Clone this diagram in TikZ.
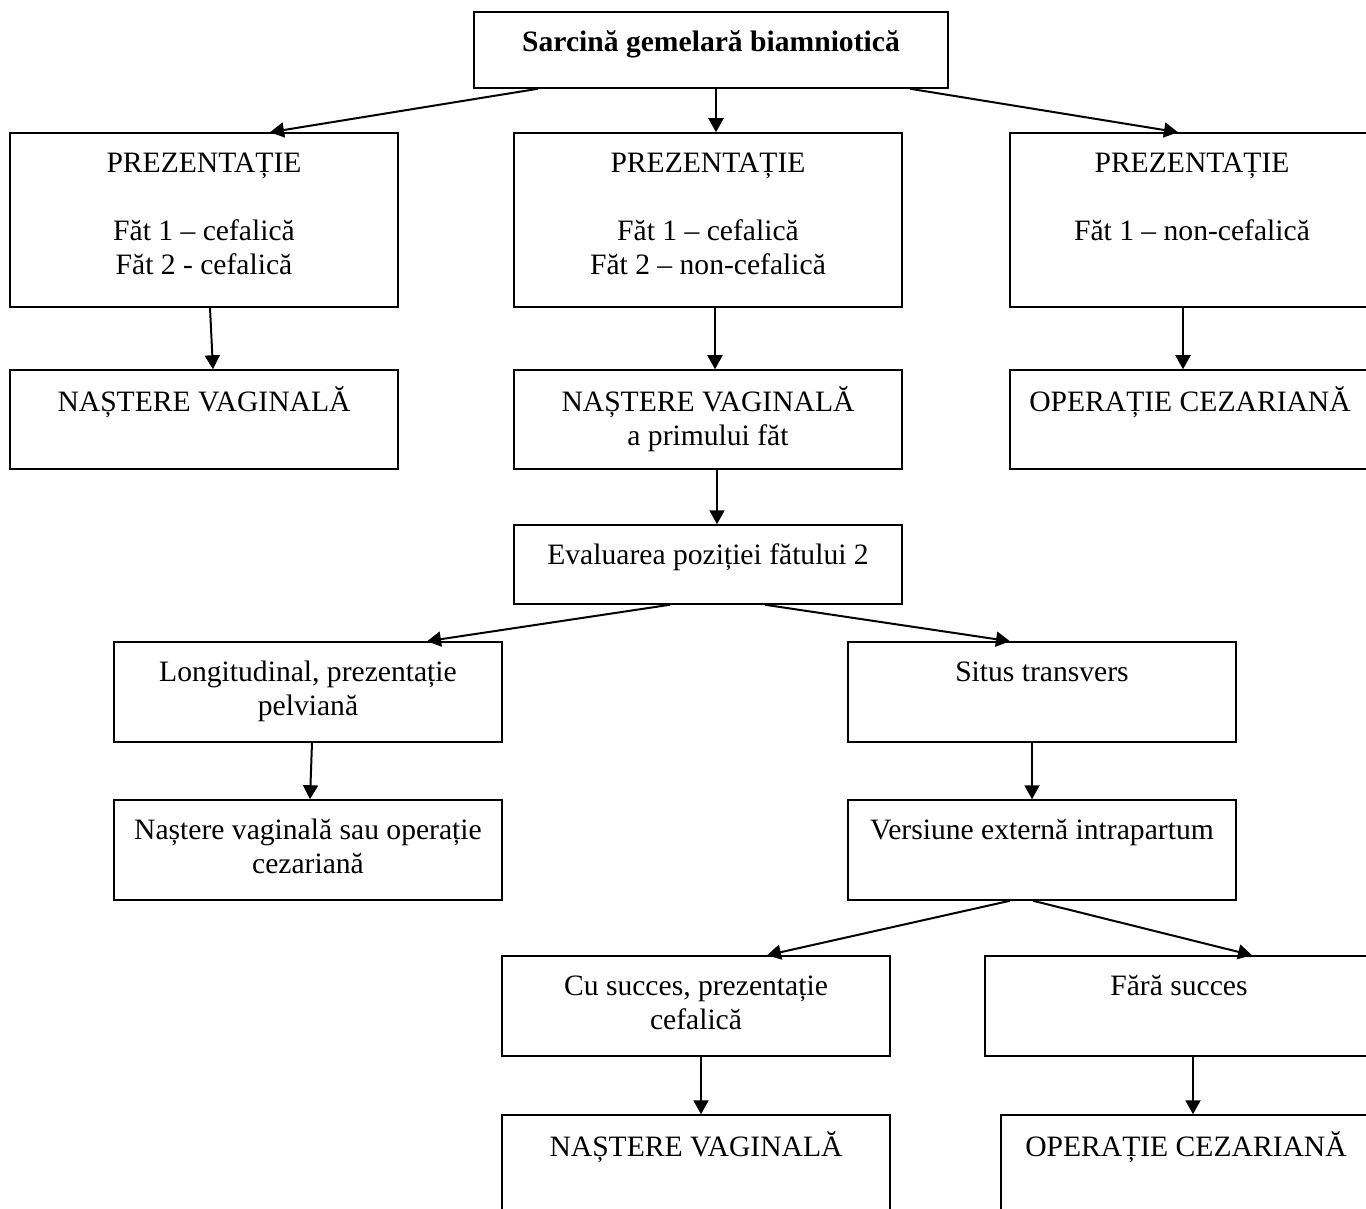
\documentclass[tikz,border=0pt]{standalone}
\usepackage{fontspec}
\setmainfont{Liberation Serif}
\usetikzlibrary{arrows.meta}
\newcommand{\boxtxt}[3]{\parbox[c][#2][t]{#1}{\centering\vspace*{8pt}\strut #3}}

\begin{document}
\begin{tikzpicture}[x=0.5pt,y=-0.5pt]
    \tikzstyle{blk}=[draw=black,line width=0.75pt,inner sep=0pt,font=\fontsize{14.8}{17}\selectfont]
    \tikzstyle{fwd}=[draw=black,line width=1pt]
    \pgfsetarrowsend{Triangle[length=7pt,width=7.5pt]}

    \def\bw{194pt}
    \def\rh{50pt}

    \clip (0,0) rectangle (1366,1209);

    % top
    \node[blk] (top) at (711,50) {\boxtxt{237pt}{38pt}{\textbf{Sarcină gemelară biamniotică}}};

    % prezentatie
    \node[blk] (p1) at (204,220) {\boxtxt{\bw}{87pt}{PREZENTAȚIE\\[17pt] Făt 1 – cefalică\\ Făt 2 - cefalică}};
    \node[blk] (p2) at (708,220) {\boxtxt{\bw}{87pt}{PREZENTAȚIE\\[17pt] Făt 1 – cefalică\\ Făt 2 – non-cefalică}};
    \node[blk] (p3) at (1192,220) {\boxtxt{182pt}{87pt}{PREZENTAȚIE\\[17pt] Făt 1 – non-cefalică}};

    \node[blk] (n1) at (204,419.5) {\boxtxt{\bw}{49.5pt}{NAȘTERE VAGINALĂ}};
    \node[blk] (n2) at (708,419.5) {\boxtxt{\bw}{49.5pt}{NAȘTERE VAGINALĂ\\ a primului făt}};
    \node[blk] (c1) at (1190,419.5) {\boxtxt{180pt}{49.5pt}{OPERAȚIE CEZARIANĂ}};

    % fatul 2
    \node[blk] (ev) at (708,564.5) {\boxtxt{\bw}{39.5pt}{Evaluarea poziției fătului 2}};

    \node[blk] (lg) at (308,692) {\boxtxt{\bw}{\rh}{Longitudinal, prezentație\\ pelviană}};
    \node[blk] (st) at (1042,692) {\boxtxt{\bw}{\rh}{Situs transvers}};
    \node[blk] (ns) at (308,850) {\boxtxt{\bw}{\rh}{Naștere vaginală sau operație\\ cezariană}};
    \node[blk] (vs) at (1042,850) {\boxtxt{\bw}{\rh}{Versiune externă intrapartum}};

    \node[blk] (cu) at (696,1006) {\boxtxt{\bw}{\rh}{Cu succes, prezentație\\ cefalică}};
    \node[blk] (fs) at (1179,1006) {\boxtxt{\bw}{\rh}{Fără succes}};
    \node[blk] (nv) at (696,1165) {\boxtxt{\bw}{\rh}{NAȘTERE VAGINALĂ}};
    \node[blk] (oc) at (1186,1165) {\boxtxt{185pt}{\rh}{OPERAȚIE CEZARIANĂ}};

   \draw [fwd] ([xshift=-86.5pt]top.south) -- ([xshift=33pt]p1.north);
   \draw [fwd] ([xshift=2.5pt]top.south) -- ([xshift=4pt]p2.north);
   \draw [fwd] ([xshift=99.5pt]top.south) -- ([xshift=-7pt]p3.north);

   \draw [fwd] ([xshift=3pt]p1.south) -- ([xshift=4.5pt]n1.north);
   \draw [fwd] ([xshift=3.5pt]p2.south) -- ([xshift=3.5pt]n2.north);
   \draw [fwd] ([xshift=-4.5pt]p3.south) -- ([xshift=-3.5pt]c1.north);

   \draw [fwd] ([xshift=4.5pt]n2.south) -- ([xshift=4.5pt]ev.north);
   \draw [fwd] ([xshift=-19pt]ev.south) -- ([xshift=59.5pt]lg.north);
   \draw [fwd] ([xshift=28.5pt]ev.south) -- ([xshift=-16pt]st.north);

   \draw [fwd] ([xshift=2pt]lg.south) -- ([xshift=1pt]ns.north);
   \draw [fwd] ([xshift=-5pt]st.south) -- ([xshift=-5pt]vs.north);

   \draw [fwd] ([xshift=-16pt]vs.south) -- ([xshift=35.5pt]cu.north);
   \draw [fwd] ([xshift=-4.5pt]vs.south) -- ([xshift=36.5pt]fs.north);

   \draw [fwd] ([xshift=2.5pt]cu.south) -- ([xshift=2.5pt]nv.north);
   \draw [fwd] ([xshift=7pt]fs.south) -- ([xshift=3.5pt]oc.north);

\end{tikzpicture}
\end{document}
